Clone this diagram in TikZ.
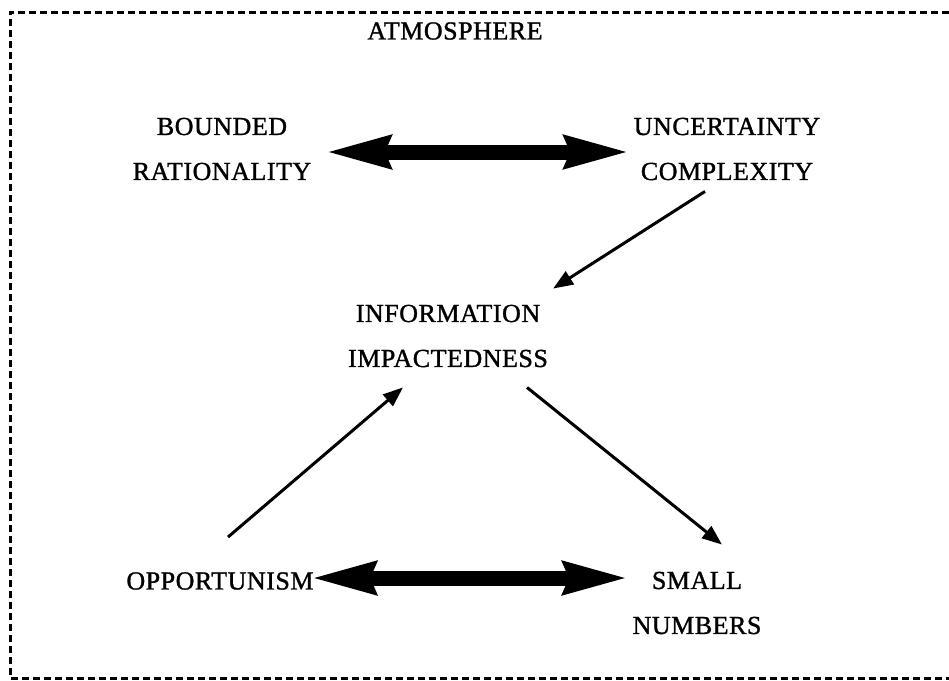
\documentclass[tikz,border=0pt]{standalone}
\usepackage{fontspec}
\setmainfont[FakeBold=1.2, LetterSpace=2]{Liberation Serif}
\usepackage{tikz}
\usetikzlibrary{arrows.meta}

\begin{document}
\begin{tikzpicture}[x=1pt, y=-1pt,
		label/.style={inner sep=0pt, align=center, font=\fontsize{26}{45}\selectfont},
		fat/.style={line width=15pt, {Stealth[length=65pt, width=30pt, inset=4pt]}-{Stealth[length=65pt, width=30pt, inset=4pt]}},
		slim/.style={line width=3pt, -{Triangle[length=20pt, width=15pt]}}]
	\useasboundingbox (0, 0) rectangle (949, 680);
	\draw[line width=3pt, dash pattern=on 7pt off 4pt] (949, 12) -- (10, 12) -- (10, 678) -- (949, 678);
	\node[label] (atm) at (455, 31) {ATMOSPHERE};
	\node[label] (bnd) at (222, 149) {BOUNDED\\RATIONALITY};
	\node[label] (unc) at (727, 149) {UNCERTAINTY\\COMPLEXITY};
	\node[label] (info) at (448, 336) {INFORMATION\\IMPACTEDNESS};
	\node[label] (opp) at (220, 581) {OPPORTUNISM};
	\node[label] (sml) at (697, 603) {SMALL\\NUMBERS};
	\draw[fat] ([shift={(12, 3)}]bnd.east) -- ([shift={(-2, 3)}]unc.west);
	\draw[fat] ([shift={(-5, -3)}]opp.east) -- ([shift={(-2, -25)}]sml.west);
	\draw[slim] ([shift={(-22, 11)}]unc.south) -- ([shift={(5, -16)}]info.north east);
	\draw[slim] ([shift={(8, -35)}]opp.north) -- ([shift={(-45, 20)}]info.south);
	\draw[slim] ([shift={(79, 20)}]info.south) -- ([shift={(25, -27)}]sml.north);
\end{tikzpicture}
\end{document}
